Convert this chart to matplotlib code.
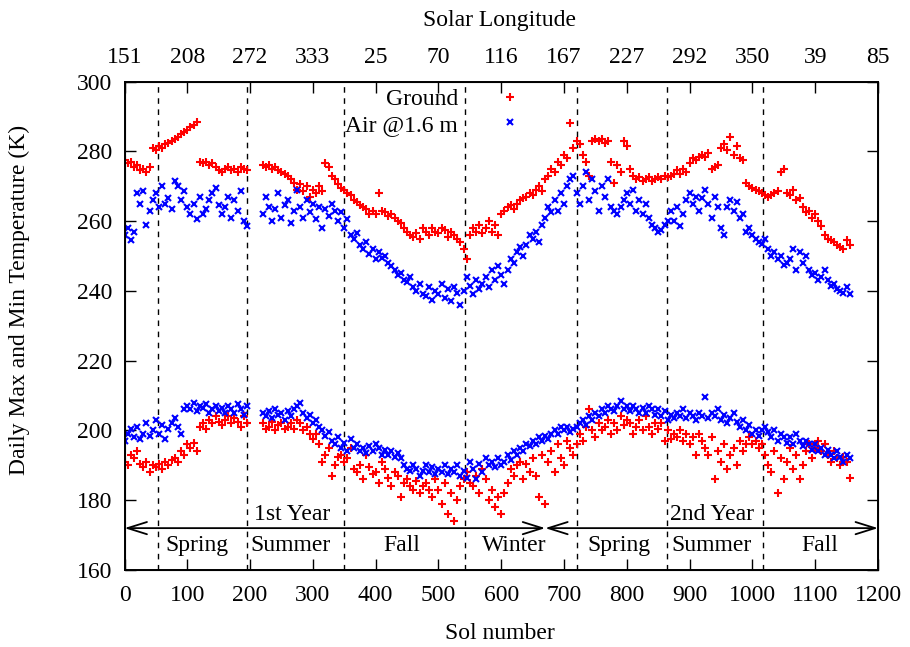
import matplotlib
matplotlib.use("Agg")
import matplotlib.pyplot as plt

plt.rcParams['font.family'] = ['Liberation Serif', 'DejaVu Serif']
plt.rcParams['font.size'] = 17

# sol numbers of the sampled days (gap around sol 200-215 has no data)
sols = [
    0, 5, 10, 15, 20, 25, 30, 35, 40, 45,
    50, 55, 60, 65, 70, 75, 80, 85, 90, 95,
    100, 105, 110, 115, 120, 125, 130, 135, 140, 145,
    150, 155, 160, 165, 170, 175, 180, 185, 190, 195,
    220, 225, 230, 235, 240, 245, 250, 255, 260, 265,
    270, 275, 280, 285, 290, 295, 300, 305, 310, 315,
    320, 325, 330, 335, 340, 345, 350, 355, 360, 365,
    370, 375, 380, 385, 390, 395, 400, 405, 410, 415,
    420, 425, 430, 435, 440, 445, 450, 455, 460, 465,
    470, 475, 480, 485, 490, 495, 500, 505, 510, 515,
    520, 525, 530, 535, 540, 545, 550, 555, 560, 565,
    570, 575, 580, 585, 590, 595, 600, 605, 610, 615,
    620, 625, 630, 635, 640, 645, 650, 655, 660, 665,
    670, 675, 680, 685, 690, 695, 700, 705, 710, 715,
    720, 725, 730, 735, 740, 745, 750, 755, 760, 765,
    770, 775, 780, 785, 790, 795, 800, 805, 810, 815,
    820, 825, 830, 835, 840, 845, 850, 855, 860, 865,
    870, 875, 880, 885, 890, 895, 900, 905, 910, 915,
    920, 925, 930, 935, 940, 945, 950, 955, 960, 965,
    970, 975, 980, 985, 990, 995, 1000, 1005, 1010, 1015,
    1020, 1025, 1030, 1035, 1040, 1045, 1050, 1055, 1060, 1065,
    1070, 1075, 1080, 1085, 1090, 1095, 1100, 1105, 1110, 1115,
    1120, 1125, 1130, 1135, 1140, 1145, 1150, 1155,
]

ground_max = [
    277.5, 276.5, 277, 275.5, 276, 274.5, 275, 274, 275.5, 281,
    280.5, 281.5, 281, 282, 282.5, 283, 283.5, 284, 285, 285.5,
    286, 287, 287.5, 288.5, 277, 276.5, 277, 276, 276.5, 275.5,
    274.5, 274, 275, 275.5, 274.5, 275, 274, 275.5, 275, 274.5,
    276, 275.5, 276, 275, 275.5, 274.5, 274, 273.5, 273, 272,
    271, 269, 270.5, 268.5, 270, 267, 269, 268, 270, 268.5,
    276.5, 275.5, 273, 272, 270.5, 269.5, 269, 268, 267.5, 266,
    265.5, 264.5, 264, 263.5, 262, 263, 262, 268, 263, 262.5,
    261.5, 262, 261, 260, 259.5, 258, 257, 256, 255.5, 256.5,
    255, 258, 257, 256, 258, 257, 256.5, 258, 257.5, 255.5,
    257, 256, 255, 254, 252, 249, 256, 258, 257, 259,
    256.5, 258, 260, 257, 259, 256, 262, 263, 264, 264.5,
    263.5, 265, 266, 266.5, 267, 268, 267.5, 269, 270, 268.5,
    272, 273, 275, 274, 277, 276, 279, 278, 288, 281,
    283, 282, 279, 277, 273, 283, 283.5, 283, 283.5, 282.5,
    283, 277, 271, 276, 274, 283, 281.5, 275, 273, 272,
    272.5, 271.5, 272, 272.5, 271.5, 272, 272.5, 272, 273, 272.5,
    273, 273.5, 274.5, 273.5, 275, 274, 276.5, 278, 277.5, 278.5,
    279, 278.5, 279.5, 275, 275.5, 276, 281, 282, 280.5, 284,
    279, 281.5, 278, 277.5, 271, 270, 269.5, 269, 268.5, 268,
    267.5, 267, 267.5, 268, 268.5, 274, 275, 268, 267.5, 269,
    266, 266.5, 264, 262.5, 263, 261, 262, 260, 258.5, 256,
    255, 254.5, 254, 253, 252.5, 252, 254.5, 253,
]

air_max = [
    256, 258, 254.5, 257, 268, 265, 268.5, 259, 263, 266,
    268, 264, 270, 265, 266.5, 263.5, 271.5, 270, 266, 268.5,
    264, 262, 265, 260.5, 267, 262, 263.5, 266, 268, 269.5,
    264.5, 262, 264, 267, 261, 266, 263, 268.5, 260, 258.5,
    262, 267, 264, 260, 263.5, 268, 261, 264.5, 266, 259.5,
    263, 269, 264, 261, 266, 262.5, 265, 260.5, 264, 258,
    263.5, 261.5, 265, 263, 260, 262.5, 258, 260.5, 256, 255,
    256.5, 253, 252, 254, 250.5, 252, 249, 251, 249.5, 250,
    248, 247, 246, 244.5, 245, 243, 242.5, 244, 241, 240,
    242, 239, 238.5, 241, 237.5, 240, 239, 242, 238, 240.5,
    237, 241, 239.5, 236, 240, 244, 241.5, 239, 243, 240.5,
    242, 244, 241, 246, 243, 247, 244.5, 242, 246, 249,
    248, 251, 252.5, 250, 253, 256, 255, 257, 254, 259,
    261, 264, 262.5, 266, 263, 268, 265, 270, 272, 273,
    268, 265, 270, 274, 266, 272, 268.5, 263, 270, 267,
    272, 264, 263, 262, 264, 266, 268, 265, 269, 263,
    266, 262, 265, 261, 259, 258, 257, 257.5, 259, 260,
    263, 260, 264, 258.5, 262, 266, 268, 265, 267, 263,
    266.5, 269, 265, 261, 267, 264, 258, 256, 264, 266,
    263, 265.5, 261, 262, 257, 258, 256, 255, 254, 253.5,
    255, 252, 250, 251, 249, 250, 247.5, 248, 249, 252,
    246, 251, 248, 250, 246, 244.5, 245, 243, 244, 246,
    243, 241.5, 242, 240.5, 240, 239.5, 241, 239,
]

ground_min = [
    191, 190, 193, 192, 194, 190.5, 189.5, 191, 188, 190,
    189.5, 190.5, 189, 191, 190, 191.5, 192, 191, 194, 193,
    196, 195, 196.5, 194, 201, 202, 200.5, 203, 202, 204,
    202.5, 201.5, 203, 204, 202, 203.5, 202.5, 201, 204, 202,
    202, 200.5, 201, 202.5, 200, 201.5, 202, 200.5, 201, 202,
    200.5, 203, 202, 200, 201, 199, 197.5, 199, 196, 191,
    193, 195, 187, 190, 192.5, 193, 191, 192, 195, 189,
    188, 190, 186, 193, 189.5, 187.5, 188, 185, 191, 189,
    186.5, 184, 188, 187, 181, 185, 186, 184, 183, 185.5,
    182, 184, 185, 183, 181, 186, 183, 179, 185, 176,
    182, 174, 180, 184, 186, 188, 185, 184, 187, 182,
    189, 186, 180, 183, 178, 181, 176, 182, 185, 189,
    187, 190, 191, 186, 190.5, 188, 192, 187, 181, 193,
    179, 191, 194, 188, 196, 192, 190, 197, 195, 193,
    196, 199, 197, 201, 206, 200, 198, 202, 200, 201,
    203, 199, 202, 200, 204, 201.5, 203, 202, 199, 201,
    203, 200, 204, 201, 199, 202, 200.5, 202, 197, 200,
    197.5, 199, 198, 200, 197, 199, 196, 198, 193, 199,
    197, 195, 193, 198, 186, 194, 191, 196, 189, 193,
    195, 190, 197, 194, 196, 198, 196, 197, 195, 196,
    193, 190, 188, 194, 182, 192, 186, 191, 195, 189,
    193, 186, 190, 194, 196, 192, 195, 197, 194, 196,
    193, 191, 194, 192, 190, 192.5, 191, 186.5,
]

air_min = [
    197, 199, 200.5, 198, 201, 197.5, 199, 202, 198.5, 200,
    203, 199, 201.5, 197.5, 200.5, 202, 203.5, 201, 199, 206,
    207, 206, 208, 205.5, 207, 206.5, 207.5, 205, 206, 207,
    205.5, 206.5, 205, 207, 206, 205, 207.5, 206, 204.5, 207,
    205, 204, 205.5, 203.5, 206, 204.5, 205, 203, 205.5, 204,
    206, 207, 208, 205, 203.5, 204.5, 202, 203, 201, 200,
    198.5, 199.5, 197, 196, 198, 195, 196.5, 194, 197.5, 195,
    196, 194, 195, 193.5, 195.5, 194, 196, 195, 193, 194.5,
    193, 194, 192.5, 193.5, 192, 190, 189, 188.5, 190, 189,
    187, 188.5, 190, 188, 189.5, 187.5, 189, 188, 190, 187.5,
    189, 188, 190, 187, 188.5, 186.5, 191, 189, 186, 190.5,
    188, 192, 190, 191, 189.5, 192, 190, 191, 193, 191.5,
    194, 193, 195, 194, 196, 195.5, 197, 196, 198, 197,
    198.5, 197.5, 199, 200, 199, 201, 200, 201, 199.5, 200.5,
    201, 202, 203, 201.5, 204, 203, 205, 204, 206, 205,
    207, 206, 205.5, 207, 208.5, 206, 207, 205.5, 207, 206,
    205, 206.5, 205, 207, 206, 204.5, 206, 204, 205.5, 203,
    204.5, 203.5, 205, 204, 206, 203.5, 205, 204, 203, 205,
    204, 209.5, 203.5, 205, 204, 206, 203, 204.5, 202, 203.5,
    205, 202.5, 201, 203, 200, 201.5, 199, 200, 198.5, 200,
    201, 199.5, 198, 200, 197, 199, 198, 196.5, 198, 196,
    199, 197, 195.5, 197, 196, 194.5, 196, 194, 195, 193,
    194.5, 193, 192, 194, 192.5, 191, 193, 192,
]

season_edges = [53, 195, 349, 542, 721, 864, 1017]
season_names = ["Spring", "Summer", "Fall", "Winter", "Spring", "Summer", "Fall"]
season_centers = [115, 264, 441, 620, 788, 935, 1108]
year_spans = [(0, 670), (670, 1200)]
year_names = ["1st Year", "2nd Year"]
year_centers = [267, 936]
sol_ticks = [0, 100, 200, 300, 400, 500, 600, 700, 800, 900, 1000, 1100, 1200]
solar_lon = ["151", "208", "272", "333", "25", "70", "116", "167",
             "227", "292", "350", "39", "85"]

fig = plt.figure(figsize=(9.10, 6.47), dpi=100)
ax = fig.add_axes([124.5 / 910, 77 / 647, 753.5 / 910, 488.5 / 647])

ax.plot(sols, ground_max, ls='none', marker='+', ms=5.5, mew=1.5,
        color='#ff0000', label='Ground', zorder=3)
ax.plot(sols, air_max, ls='none', marker='x', ms=4.5, mew=1.5,
        color='#0000ff', label='Air @1.6 m', zorder=3)
ax.plot(sols, ground_min, ls='none', marker='+', ms=5.5, mew=1.5,
        color='#ff0000', zorder=3)
ax.plot(sols, air_min, ls='none', marker='x', ms=4.5, mew=1.5,
        color='#0000ff', zorder=3)

for s in season_edges:
    ax.axvline(s, color='black', lw=1, ls=(0, (4, 4)), zorder=2)

for name, c in zip(season_names, season_centers):
    ax.text(c, 167, name, ha='center', va='center')

for (a, b), name, c in zip(year_spans, year_names, year_centers):
    ax.annotate('', xy=(b, 172), xytext=(a, 172), annotation_clip=False,
                arrowprops=dict(arrowstyle='<->,head_length=0.7,head_width=0.22',
                                lw=1.3, color='black', shrinkA=0, shrinkB=0,
                                mutation_scale=20))
    ax.text(c, 176, name, ha='center', va='center')

ax.set_xlim(0, 1200)
ax.set_ylim(160, 300)
ax.set_xticks(sol_ticks)
ax.set_yticks([160, 180, 200, 220, 240, 260, 280, 300])
ax.tick_params(direction='in', length=8, width=1, right=True, top=False)
ax.tick_params(axis='x', pad=11)
ax.tick_params(axis='y', pad=9)
for sp in ax.spines.values():
    sp.set_linewidth(1.4)

ax.set_xlabel('Sol number')
ax.xaxis.set_label_coords(0.498, -0.131)
ax.xaxis.label.set_va('center')
ax.set_ylabel('Daily Max and Min Temperature (K)')
ax.yaxis.set_label_coords(-0.139, 0.553)
ax.yaxis.label.set_va('center')

top = ax.twiny()
top.set_xlim(0, 1200)
top.set_xticks(sol_ticks)
top.set_xticklabels(solar_lon)
top.tick_params(direction='in', length=8, width=1, pad=10)
top.set_xlabel('Solar Longitude')
top.xaxis.set_label_coords(0.498, 1.124)
top.xaxis.label.set_va('center')

ax.legend(loc='upper right', bbox_to_anchor=(0.527, 0.985), frameon=False,
          markerfirst=False, handlelength=1.0, handletextpad=1.7,
          borderpad=0, borderaxespad=0, labelspacing=0.16, fontsize=17)

fig.savefig('out.png', dpi=100)
